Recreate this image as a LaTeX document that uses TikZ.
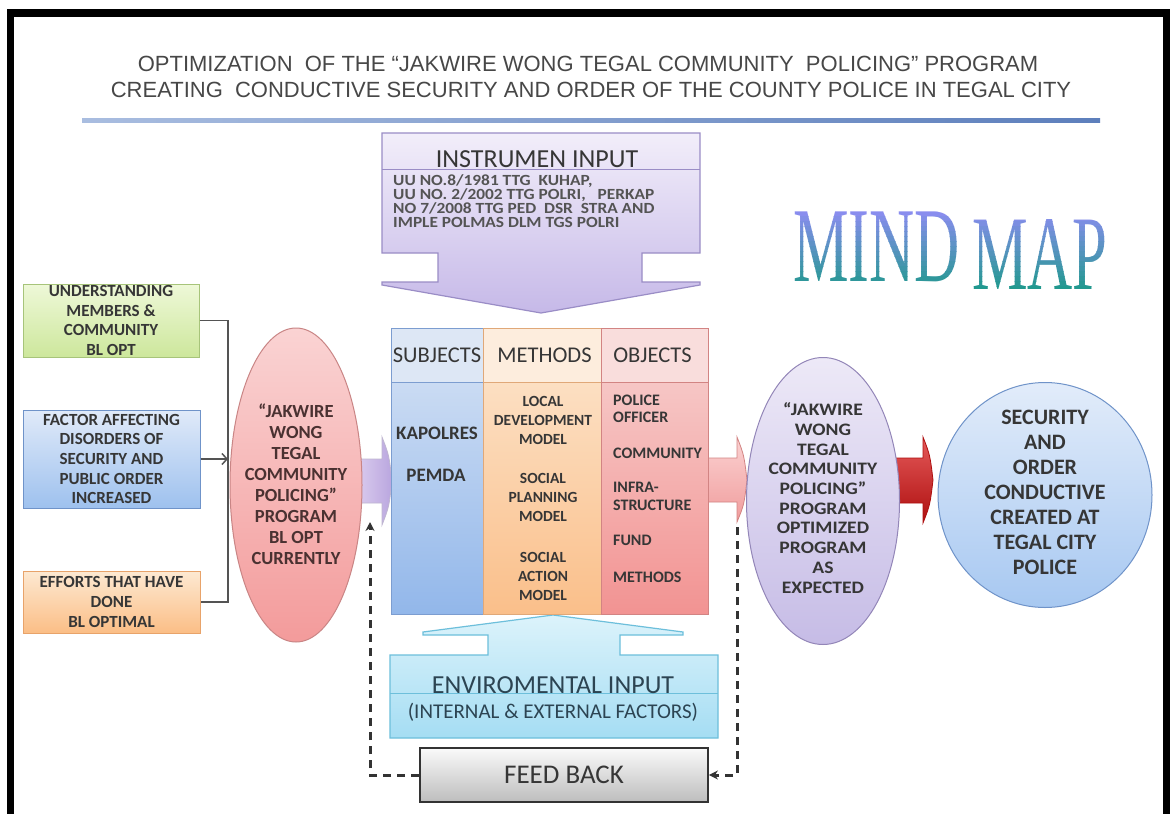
\documentclass[tikz,border=0pt]{standalone}
\usepackage{fontspec}
\setmainfont{Carlito}
\newfontfamily\titlefont{Liberation Sans}
\newfontfamily\mapfont{Liberation Serif}
\newfontfamily\widefont[FakeStretch=1.12]{Carlito}
\usetikzlibrary{shapes.geometric,arrows.meta}

\definecolor{ink}{HTML}{363636}
\definecolor{titleink}{HTML}{474747}
\definecolor{rulea}{HTML}{A9BDE0}
\definecolor{ruleb}{HTML}{5D7FBC}
% left boxes
\definecolor{grntop}{HTML}{EEF8D8}
\definecolor{grnbot}{HTML}{CDE79C}
\definecolor{grnline}{HTML}{A7C47A}
\definecolor{blutop}{HTML}{E0EAF9}
\definecolor{blubot}{HTML}{9EC1EE}
\definecolor{bluline}{HTML}{6F93C9}
\definecolor{orgtop}{HTML}{FDE9D2}
\definecolor{orgbot}{HTML}{FBBE86}
\definecolor{orgline}{HTML}{E8A36A}
% ovals
\definecolor{redtop}{HTML}{FAD3D3}
\definecolor{redbot}{HTML}{F39B9B}
\definecolor{redline}{HTML}{C98585}
\definecolor{purtop}{HTML}{EDE9F7}
\definecolor{purbot}{HTML}{C6BCE6}
\definecolor{purline}{HTML}{9386B8}
\definecolor{cirtop}{HTML}{E2ECFA}
\definecolor{cirbot}{HTML}{A7C8F1}
\definecolor{cirline}{HTML}{6F93C9}
% instrument / environment block arrows
\definecolor{instop}{HTML}{F2EEFA}
\definecolor{insbot}{HTML}{C6B9E8}
\definecolor{insline}{HTML}{9A8DC6}
\definecolor{envtop}{HTML}{DCF3FB}
\definecolor{envbot}{HTML}{A5DDF3}
\definecolor{envline}{HTML}{6DBFDB}
\definecolor{envink}{HTML}{2C4452}
% table columns
\definecolor{subhead}{HTML}{DDE7F5}
\definecolor{subtop}{HTML}{CADBF3}
\definecolor{subbot}{HTML}{92B7EA}
\definecolor{subline}{HTML}{7C9DD0}
\definecolor{methead}{HTML}{FDEDDD}
\definecolor{mettop}{HTML}{FCDFC2}
\definecolor{metbot}{HTML}{FABF8A}
\definecolor{metline}{HTML}{E0A878}
\definecolor{objhead}{HTML}{F9DDDC}
\definecolor{objtop}{HTML}{F6C6C5}
\definecolor{objbot}{HTML}{F29392}
\definecolor{objline}{HTML}{D28483}
% small block arrows, feedback, title art
\definecolor{lavtop}{HTML}{DCCDEE}
\definecolor{lavbot}{HTML}{B9A6DF}
\definecolor{pnktop}{HTML}{FBD2D2}
\definecolor{pnkbot}{HTML}{F09C9C}
\definecolor{dredtop}{HTML}{E55A5A}
\definecolor{dredbot}{HTML}{AE0F0F}
\definecolor{fbtop}{HTML}{FAFAFA}
\definecolor{fbbot}{HTML}{BDBDBD}
\definecolor{fbline}{HTML}{333333}
\definecolor{maptop}{HTML}{8F8CF3}
\definecolor{mapbot}{HTML}{1A9A88}

\begin{document}
\begin{tikzpicture}[x=1pt,y=-1pt,
  conn/.style={draw=ink!85, line width=1.3pt},
  fbdash/.style={draw=fbline, line width=3pt, dash pattern=on 8pt off 6pt},
  lbox/.style={draw, line width=1pt, inner sep=0pt, align=center, text=ink,
    font=\bfseries\fontsize{17}{19.7}\selectfont},
  cell/.style={draw, line width=1pt, inner sep=0pt, anchor=north west},
  headtxt/.style={text=ink, inner sep=0pt, font=\fontsize{22.5}{22.5}\selectfont},
  bodytxt/.style={text=ink, inner sep=0pt, align=center, font=\bfseries\fontsize{15.5}{19}\selectfont},
  objtxt/.style={text=ink, inner sep=0pt, align=left, anchor=west, font=\bfseries\fontsize{16}{17.5}\selectfont},
  oval/.style={ellipse, inner sep=0pt, line width=1pt},
  mapart/.style={inner sep=0pt, font=\mapfont\fontsize{106}{106}\selectfont}
]
\useasboundingbox (0,0) rectangle (1173,814);
\clip (0,0) rectangle (1173,814);
\fill[white] (0,0) rectangle (1173,814);

% heavy outer frame
\draw[line width=7.5pt] (10.5,13) rectangle (1166.5,900);

% heading
\node[anchor=base, inner sep=0pt, font=\titlefont\fontsize{22}{22}\selectfont, text=titleink] (title1)
  at (588,71) {OPTIMIZATION\ \ OF THE “JAKWIRE WONG TEGAL COMMUNITY\ \ POLICING” PROGRAM};
\node[anchor=base, inner sep=0pt, font=\titlefont\fontsize{22}{22}\selectfont, text=titleink] (title2)
  at (591,97) {CREATING\ \ CONDUCTIVE SECURITY AND ORDER OF THE COUNTY POLICE IN TEGAL CITY};
\shade[left color=rulea, right color=ruleb] (82,118) rectangle (1100,122);

% MIND MAP word art, shaded top to bottom in thin bands
\foreach \i in {0,...,17} {
  \pgfmathtruncatemacro\p{100*\i/17}
  \begin{scope}
    \clip (780,{206+5*\i}) rectangle (1125,{211.6+5*\i});
    \node[mapart, text=mapbot!\p!maptop] (mind\i) at (876.5,247) {\scalebox{0.59}[1]{MIND}};
    \node[mapart, text=mapbot!\p!maptop] (map\i) at (1040,255) {\scalebox{0.59}[1]{MAP}};
  \end{scope}
}

% instrument input (downward block arrow)
\path[draw=insline, line width=1.2pt, top color=instop, bottom color=insbot]
  (382,133) -- (700,133) -- (700,253) -- (642,253) -- (642,282) -- (700,282) -- (700,285)
  -- (541,313) -- (382,285) -- (382,282) -- (438,282) -- (438,253) -- (382,253) -- cycle;
\draw[insline, line width=1pt] (382,169) -- (700,169);
\node[anchor=base, inner sep=0pt, font=\fontsize{26}{26}\selectfont, text=ink] (institle)
  at (537,167) {INSTRUMEN INPUT};
\node[anchor=north west, inner sep=0pt, align=left, text=ink!85,
  font=\widefont\bfseries\fontsize{15.5}{14}\selectfont] (instext) at (393,174.5)
  {UU NO.8/1981 TTG\ \ KUHAP,\\UU NO. 2/2002 TTG POLRI,\ \ \ PERKAP\\NO 7/2008 TTG PED\ \ DSR\ \ STRA AND\\IMPLE POLMAS DLM TGS POLRI};

% environmental input (upward block arrow)
\path[draw=envline, line width=1.2pt, top color=envtop, bottom color=envbot]
  (390,738) -- (718,738) -- (718,655) -- (620,655) -- (620,635) -- (683,635) -- (683,632)
  -- (553,615) -- (423,632) -- (423,635) -- (488,635) -- (488,655) -- (390,655) -- cycle;
\draw[envline, line width=1pt] (390,693) -- (718,693);
\node[anchor=base, inner sep=0pt, font=\fontsize{26}{26}\selectfont, text=envink] (envtitle)
  at (553,693) {ENVIROMENTAL INPUT};
\node[anchor=base, inner sep=0pt, font=\fontsize{21}{21}\selectfont, text=envink] (envsub)
  at (553,718) {(INTERNAL \& EXTERNAL FACTORS)};

% feedback box
\node[draw=fbline, line width=1.8pt, top color=fbtop, bottom color=fbbot, inner sep=0pt,
  minimum width=288pt, minimum height=54pt, font=\fontsize{27}{27}\selectfont, text=ink]
  (fb) at (564,775) {FEED BACK};

% left-hand factor boxes
\node[lbox, draw=grnline, top color=grntop, bottom color=grnbot, minimum width=176pt, minimum height=73pt]
  (under) at (111,320.5) {UNDERSTANDING\\MEMBERS \&\\COMMUNITY\\BL OPT};
\node[lbox, draw=bluline, top color=blutop, bottom color=blubot, minimum width=177pt, minimum height=98pt]
  (factor) at (111.5,459) {FACTOR AFFECTING\\DISORDERS OF\\SECURITY AND\\PUBLIC ORDER\\INCREASED};
\node[lbox, draw=orgline, top color=orgtop, bottom color=orgbot, minimum width=177pt, minimum height=62pt]
  (effort) at (111.5,602) {EFFORTS THAT HAVE\\DONE\\BL OPTIMAL};

\coordinate (jx) at (228,460);
\draw[conn] (under.east) -- (under.east -| jx) -- (effort.east -| jx) -- (effort.east);
\draw[conn, -{Straight Barb[length=5pt,width=11pt,line width=1.5pt]}] (factor.east) -- (factor.east -| jx);

% small block arrows between the stages
\path[draw=lavbot!80!black!60, line width=0.8pt, left color=lavtop, right color=lavbot]
  (356,459) -- (382,459) -- (382,437) .. controls (389,455) .. (392,481)
  .. controls (389,507) .. (382,525) -- (382,503) -- (356,503) -- cycle;
\path[draw=objline, line width=0.8pt, top color=pnktop, bottom color=pnkbot]
  (708,458) -- (737,458) -- (737,437) .. controls (744,455) .. (747,480)
  .. controls (744,505) .. (737,522) -- (737,502) -- (708,502) -- cycle;
\path[draw=dredbot, line width=0.8pt, top color=dredtop, bottom color=dredbot]
  (894,458) -- (923,458) -- (923,437) .. controls (930,455) .. (933,480)
  .. controls (930,505) .. (923,523) -- (923,503) -- (894,503) -- cycle;

% stage ovals
\node[oval, draw=redline, top color=redtop, bottom color=redbot, minimum width=132pt, minimum height=314pt]
  (current) at (296,485) {};
\node[inner sep=0pt, align=center, text=ink!90!red, font=\bfseries\fontsize{18.5}{21}\selectfont]
  (currenttxt) at (296,484) {“JAKWIRE\\WONG\\TEGAL\\COMMUNITY\\POLICING”\\PROGRAM\\BL OPT\\CURRENTLY};
\node[oval, draw=purline, top color=purtop, bottom color=purbot, minimum width=153pt, minimum height=287pt]
  (optimized) at (823,501) {};
\node[inner sep=0pt, align=center, text=ink, font=\widefont\bfseries\fontsize{17.5}{19.7}\selectfont]
  (optimizedtxt) at (823,498) {“JAKWIRE\\WONG\\TEGAL\\COMMUNITY\\POLICING”\\PROGRAM\\OPTIMIZED\\PROGRAM\\AS\\EXPECTED};
\node[oval, draw=cirline, top color=cirtop, bottom color=cirbot, minimum width=214pt, minimum height=225pt]
  (result) at (1045,495) {};
\node[inner sep=0pt, align=center, text=ink, font=\bfseries\fontsize{22}{25}\selectfont]
  (resulttxt) at (1045,492) {SECURITY\\AND\\ORDER\\CONDUCTIVE\\CREATED AT\\TEGAL CITY\\POLICE};

% central table: subjects, methods, objects
\node[cell, draw=subline, fill=subhead, minimum width=92pt, minimum height=54pt] (subjh) at (391,328) {};
\node[cell, draw=subline, top color=subtop, bottom color=subbot, minimum width=92pt, minimum height=232pt] (subjb) at (391,382) {};
\node[cell, draw=metline, fill=methead, minimum width=118pt, minimum height=54pt] (meth) at (483,328) {};
\node[cell, draw=metline, top color=mettop, bottom color=metbot, minimum width=118pt, minimum height=232pt] (metb) at (483,382) {};
\node[cell, draw=objline, fill=objhead, minimum width=107pt, minimum height=54pt] (objh) at (601,328) {};
\node[cell, draw=objline, top color=objtop, bottom color=objbot, minimum width=107pt, minimum height=232pt] (objb) at (601,382) {};

\node[headtxt] (subjt) at (437,355) {SUBJECTS};
\node[headtxt] (metht) at (544.5,355) {METHODS};
\node[headtxt] (objt) at (652.5,355) {OBJECTS};

\node[bodytxt, font=\bfseries\fontsize{19}{19}\selectfont] (kapolres) at (437,433) {KAPOLRES};
\node[bodytxt, font=\bfseries\fontsize{19}{19}\selectfont] (pemda) at (436,475) {PEMDA};

\node[bodytxt] (local) at (543,420) {LOCAL\\DEVELOPMENT\\MODEL};
\node[bodytxt] (planning) at (543,497) {SOCIAL\\PLANNING\\MODEL};
\node[bodytxt] (action) at (543,576) {SOCIAL\\ACTION\\MODEL};

\node[objtxt] (officer) at (613,409) {POLICE\\OFFICER};
\node[objtxt] (community) at (613,453) {COMMUNITY};
\node[objtxt] (infra) at (613,496.5) {INFRA-\\STRUCTURE};
\node[objtxt] (fund) at (613,540) {FUND};
\node[objtxt] (methods) at (613,577) {METHODS};

% feedback loop
\coordinate (fbL) at (370,522);
\coordinate (fbR) at (737,527);
\draw[fbdash, -{Stealth[length=9pt,width=9pt]}] (fb.west) -| (fbL);
\draw[fbdash, -{Stealth[length=9pt,width=9pt]}] (fbR) |- (fb.east);
\end{tikzpicture}
\end{document}
